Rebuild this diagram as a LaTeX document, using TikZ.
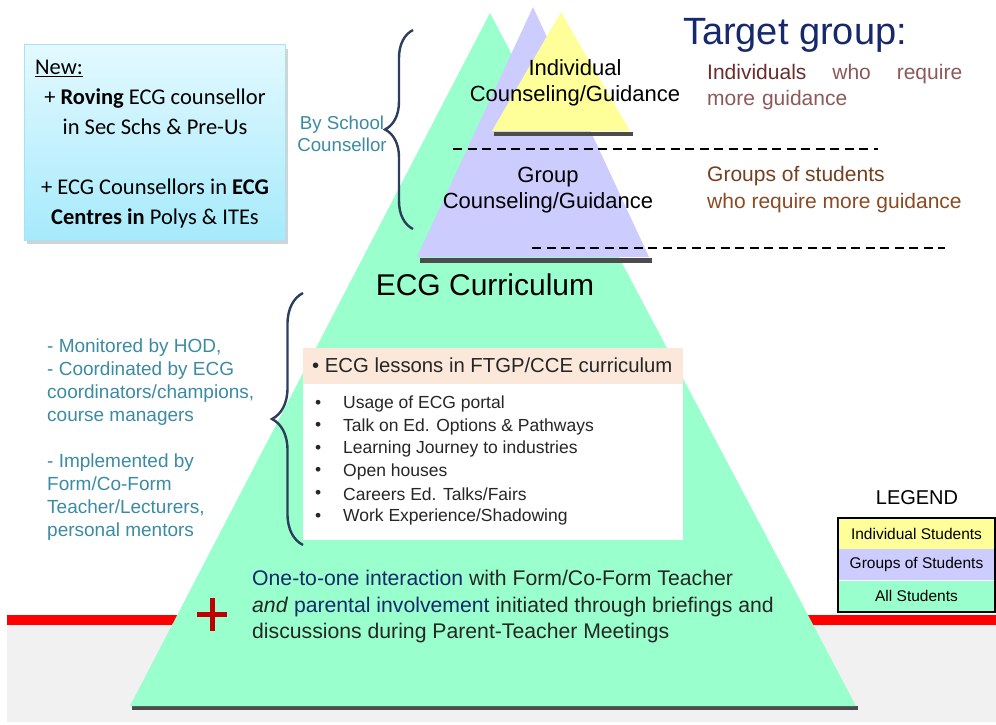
\documentclass[tikz,border=0pt]{standalone}
\usepackage{fontspec}
\setmainfont{Liberation Sans}
\newfontfamily\calibri{Carlito}
\usetikzlibrary{decorations.pathreplacing,shadows,positioning}

\definecolor{allgreen}{HTML}{99FFCC}
\definecolor{grouppurple}{HTML}{CCCCFF}
\definecolor{indivyellow}{HTML}{FFFF99}
\definecolor{tealtext}{HTML}{3A8BA3}
\definecolor{navytext}{HTML}{15296C}
\definecolor{maroontext}{HTML}{6B2C2C}
\definecolor{rosetext}{HTML}{8E5858}
\definecolor{browntext}{HTML}{8A4A22}
\definecolor{peach}{HTML}{FBE8DA}
\definecolor{bracenavy}{HTML}{2B3F5C}
\definecolor{boxtop}{HTML}{E3F9FF}
\definecolor{boxbottom}{HTML}{A6EAFB}
\definecolor{plusred}{HTML}{C00000}

\tikzset{
  tribase/.style={line width=4pt, black!70},
  dashline/.style={line width=2.6pt, dash pattern=on 9pt off 5.5pt},
  bracepath/.style={decorate, line width=2.4pt, color=bracenavy},
  tritext/.style={align=center, font=\fontsize{22}{26}\selectfont},
  tealnote/.style={anchor=west, text=tealtext, align=left, inner sep=0pt,
    font=\fontsize{19}{23}\selectfont},
  newtext/.style={font=\calibri\fontsize{22.5}{30}\selectfont, inner sep=0pt},
  legendrow/.style={minimum width=157pt, minimum height=31pt, inner sep=0pt,
    font=\fontsize{15.5}{16}\selectfont},
  lessontext/.style={anchor=west, inner sep=0pt, text=black!85,
    font=\fontsize{17.5}{20}\selectfont}
}

\begin{document}
\begin{tikzpicture}[x=1pt,y=-1pt]
\useasboundingbox (0,0) rectangle (996,725);

% floor band and red rail
\fill[gray!11] (7,625) rectangle (996,722);
\fill[red] (7,615) rectangle (996,625);

% the three triangles
\draw[tribase] (132,708) -- (858,708);
\fill[allgreen] (490,13) -- (130,706) -- (856,706) -- cycle;
\draw[tribase, line width=5pt] (420,260) -- (652,260);
\fill[grouppurple] (533,7) -- (417,257) -- (649,257) -- cycle;
\draw[tribase] (494,134) -- (633,134);
\fill[indivyellow] (561,12) -- (492,131) -- (630,131) -- cycle;

\draw[dashline] (453,149) -- (878,149);
\draw[dashline] (532,248) -- (945,248);

\node[tritext] (indiv) at (575,83) {Individual\\Counseling/Guidance};
\node[tritext] (group) at (548,190) {Group\\Counseling/Guidance};
\node[font=\fontsize{30}{32}\selectfont] (curric) at (485,285) {ECG Curriculum};

% target group
\node[text=navytext, font=\fontsize{38}{42}\selectfont] (target) at (795,35) {Target group:};
\node[anchor=west, inner sep=0pt, text width=255pt, align=left, text=rosetext,
  font=\fontsize{21}{26}\selectfont] (tgindiv) at (707,87)
  {\textcolor{maroontext}{Individuals}\hfill who\hfill require\\more guidance};
\node[anchor=west, inner sep=0pt, align=left, text=browntext,
  font=\fontsize{21}{27}\selectfont] (tggroup) at (707,190)
  {\textcolor{browntext!85!black}{Groups of students}\\who require more guidance};

% new counsellors box
\node[draw=cyan!35, line width=1pt, top color=boxtop, bottom color=boxbottom,
  minimum width=261pt, minimum height=195pt,
  drop shadow={shadow xshift=3pt, shadow yshift=-4pt, opacity=0.35}] (newbox) at (154.5,142.5) {};
\node[newtext, anchor=west] (newlabel) at (35,68) {\underline{New:}};
\node[newtext, align=center] (newlist) at (155,158)
  {+ \textbf{Roving} ECG counsellor\\in Sec Schs \& Pre-Us\\[30pt]
   + ECG Counsellors in \textbf{ECG}\\\textbf{Centres in} Polys \& ITEs};

% braces
\coordinate (schooltop) at (413,30);
\coordinate (schoolbot) at (413,229);
\draw[bracepath, decoration={brace, amplitude=28pt}] (schoolbot) -- (schooltop);
\node[align=center, text=tealtext, font=\fontsize{18.7}{22}\selectfont] (byschool) at (342,134)
  {By School\\Counsellor};
\coordinate (currtop) at (303,293);
\coordinate (currbot) at (303,545);
\draw[bracepath, decoration={brace, amplitude=31pt}] (currbot) -- (currtop);

\node[tealnote] (monitor) at (47,382)
  {- Monitored by HOD,\\- Coordinated by ECG\\coordinators/champions,\\course managers};
\node[tealnote] (implement) at (47,497)
  {- Implemented by\\Form/Co-Form\\Teacher/Lecturers,\\personal mentors};

% curriculum activities
\node[fill=peach, minimum width=380pt, minimum height=36pt, inner sep=0pt] (lessonhead) at (493,366) {};
\node[anchor=west, inner sep=0pt, font=\fontsize{20.3}{22}\selectfont, text=black!85] (lessontitle) at (312,365)
  {\textbullet\ ECG lessons in FTGP/CCE curriculum};
\node[fill=white, minimum width=380pt, minimum height=156pt, inner sep=0pt] (lessonbody) at (493,462) {};
\foreach \item [count=\i from 0] in {Usage of ECG portal,
    Talk on Ed. Options \& Pathways, Learning Journey to industries,
    Open houses, Careers Ed. Talks/Fairs, Work Experience/Shadowing}{
  \node[lessontext] at (315,404+22.6*\i) {\textbullet};
  \node[lessontext] at (343,404+22.6*\i) {\item};
}

% parental involvement
\draw[plusred, line width=5pt] (197,614) -- (227,614);
\draw[plusred, line width=5pt] (212,598) -- (212,631);
\node[anchor=west, inner sep=0pt, align=left, text=black!85,
  font=\fontsize{21.2}{26.5}\selectfont] (parent) at (252,607)
  {\textcolor{navytext}{One-to-one interaction} with Form/Co-Form Teacher\\
   \textit{and} \textcolor{navytext}{parental involvement} initiated through briefings and\\
   discussions during Parent-Teacher Meetings};

% legend
\node[font=\fontsize{20}{22}\selectfont] (legendtitle) at (917,498) {LEGEND};
\node[legendrow, fill=indivyellow] (legindiv) at (916.5,533.5) {Individual Students};
\node[legendrow, fill=grouppurple, below=0pt of legindiv] (leggroup) {Groups of Students};
\node[legendrow, fill=allgreen, below=0pt of leggroup] (legall) {All Students};
\draw[line width=2pt] (legindiv.north west) rectangle (legall.south east);
\end{tikzpicture}
\end{document}
